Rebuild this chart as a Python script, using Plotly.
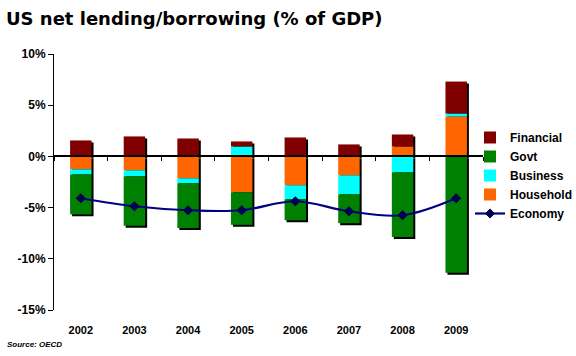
import plotly.graph_objects as go

years = ["2002", "2003", "2004", "2005", "2006", "2007", "2008", "2009"]
household = [-1.27, -1.36, -2.14, -3.50, -2.82, -1.85, 0.97, 3.90]
business = [-0.49, -0.58, -0.49, 0.97, -1.36, -1.85, -1.56, 0.29]
govt = [-3.90, -4.84, -4.35, -3.18, -2.05, -2.82, -6.30, -11.36]
financial = [1.56, 1.95, 1.75, 0.49, 1.85, 1.17, 1.17, 3.12]
economy = [-4.09, -4.87, -5.26, -5.26, -4.38, -5.36, -5.75, -4.09]

yticks = [-15, -10, -5, 0, 5, 10]
ytick_labels = ["-15%", "-10%", "-5%", "0%", "5%", "10%"]

colors = {
    "Financial": "#800000",
    "Govt": "#008000",
    "Business": "#00FFFF",
    "Household": "#FF6600",
    "Economy": "#000080",
}

# shadow extents derived from data
series = [household, business, govt, financial]
pos_tot = [sum(v for v in vals if v > 0) for vals in zip(*series)]
neg_tot = [sum(v for v in vals if v < 0) for vals in zip(*series)]

W, H = 576, 356
L, R, T, B = 54, 91, 54, 44
pw = W - L - R
ph = H - T - B
dx = 2 / pw
dy = 2 / ph

fig = go.Figure()

# shadows on primary subplot (drawn first, underneath)
fig.add_trace(go.Bar(x=years, y=pos_tot, marker=dict(color="black", line=dict(width=0)),
                     showlegend=False, hoverinfo="skip", xaxis="x", yaxis="y"))
fig.add_trace(go.Bar(x=years, y=neg_tot, marker=dict(color="black", line=dict(width=0)),
                     showlegend=False, hoverinfo="skip", xaxis="x", yaxis="y"))

ranks = {"Financial": 1, "Govt": 2, "Business": 3, "Household": 4, "Economy": 5}
for name, vals in [("Household", household), ("Business", business),
                   ("Govt", govt), ("Financial", financial)]:
    fig.add_trace(go.Bar(x=years, y=vals, name=name,
                         marker=dict(color=colors[name], line=dict(width=0)),
                         legendrank=ranks[name], xaxis="x2", yaxis="y2"))

fig.add_trace(go.Scatter(x=years, y=economy, name="Economy", mode="lines+markers",
                         line=dict(color=colors["Economy"], width=2.2, shape="spline", smoothing=1.0),
                         marker=dict(symbol="diamond", size=7, color="#000060",
                                     line=dict(color="#000030", width=1)),
                         legendrank=ranks["Economy"], xaxis="x3", yaxis="y2"))

tickfont = dict(family="Liberation Sans, Arial, sans-serif", size=12, color="black", weight="bold")

fig.update_layout(
    width=W, height=H,
    margin=dict(l=L, r=R, t=T, b=B, pad=0, autoexpand=False),
    paper_bgcolor="white", plot_bgcolor="rgba(0,0,0,0)",
    barmode="relative", bargap=0.6,
    showlegend=True,
    title=dict(text="<b>US net lending/borrowing (% of GDP)</b>",
               x=6 / W, xanchor="left", xref="container",
               y=1 - 19 / H, yanchor="middle", yref="container",
               font=dict(family="DejaVu Sans, sans-serif", size=18, color="black")),
    xaxis=dict(domain=[dx, 1], type="category", categoryorder="array", categoryarray=years,
               range=[-0.5, 7.5], visible=False, anchor="y", fixedrange=True),
    yaxis=dict(domain=[0, 1 - dy], range=[-15, 10], visible=False, anchor="x"),
    xaxis2=dict(domain=[0, 1 - dx], type="category", categoryorder="array", categoryarray=years,
                range=[-0.5, 7.5], anchor="y2", showline=False, showgrid=False, zeroline=False,
                ticks="", ticklabelstandoff=12,
                tickfont=dict(family="Liberation Sans, Arial, sans-serif", size=11, color="black", weight="bold")),
    yaxis2=dict(domain=[dy, 1], range=[-15, 10], anchor="x2",
                tickmode="array", tickvals=yticks, ticktext=ytick_labels,
                showline=True, linecolor="black", linewidth=1,
                ticks="outside", ticklen=5, tickcolor="black", tickwidth=1,
                showgrid=False, zeroline=False, tickfont=tickfont),
    xaxis3=dict(overlaying="x2", type="category", categoryorder="array", categoryarray=years,
                range=[-0.5, 7.5], anchor="free", position=dy + (1 - dy) * 0.6,
                showline=True, linecolor="black", linewidth=1.5,
                ticks="outside", tickson="boundaries", ticklen=4, tickcolor="black",
                showticklabels=False, showgrid=False, zeroline=False),
    legend=dict(x=470 / W, xanchor="left", xref="container",
                y=1 - 123 / H, yanchor="top", yref="container",
                bgcolor="rgba(0,0,0,0)", borderwidth=0,
                font=dict(family="Liberation Sans, Arial, sans-serif", size=12, color="black", weight="bold"),
                tracegroupgap=0, itemwidth=30),
    annotations=[dict(text="<b><i>Source: OECD</i></b>", xref="paper", yref="paper",
                      x=-L / pw + 5 / pw, xanchor="left",
                      y=-(344 - (T + ph)) / ph, yanchor="middle", showarrow=False,
                      font=dict(family="Liberation Sans, Arial, sans-serif", size=8, color="black"))],
)

fig.write_html("out.html")
